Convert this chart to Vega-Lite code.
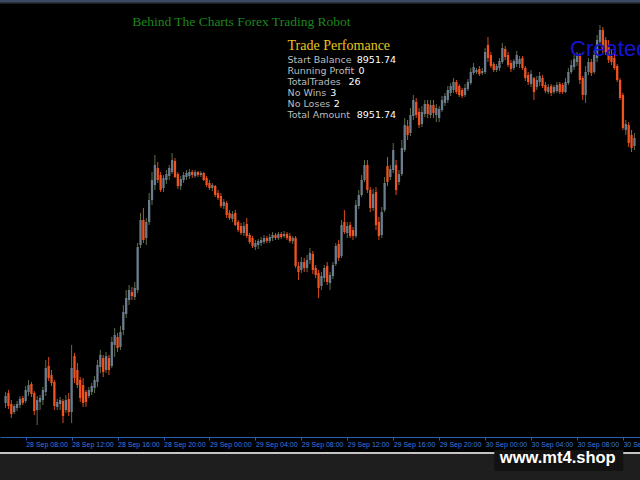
{
"$schema": "https://vega.github.io/schema/vega-lite/v6.json",
"width": 640, "height": 448,
"autosize": {"type": "none"},
"padding": {"left": 0, "right": 0, "top": 4, "bottom": 28},
"background": "#1e1e1e",
"config": {"view": {"stroke": null, "fill": "#000000"}},
"data": {"values": [
{"i":-7,"o":97,"h":108,"l":92,"c":104},{"i":-6,"o":107,"h":110,"l":91,"c":94},{"i":-5,"o":96,"h":100,"l":82,"c":86},{"i":-4,"o":88,"h":96,"l":86,"c":94},{"i":-3,"o":92,"h":99,"l":89,"c":96},{"i":-2,"o":95,"h":104,"l":92,"c":101},{"i":-1,"o":102,"h":104,"l":95,"c":97},
{"i":0,"o":99,"h":114,"l":97,"c":110},{"i":1,"o":108,"h":120,"l":104,"c":115},{"i":2,"o":116,"h":118,"l":103,"c":106},{"i":3,"o":107,"h":109,"l":85,"c":89},{"i":4,"o":90,"h":104,"l":75,"c":100},{"i":5,"o":98,"h":105,"l":90,"c":102},{"i":6,"o":100,"h":113,"l":95,"c":110},{"i":7,"o":108,"h":140,"l":104,"c":132},{"i":8,"o":134,"h":143,"l":119,"c":122},{"i":9,"o":125,"h":130,"l":114,"c":117},
{"i":10,"o":118,"h":120,"l":90,"c":94},{"i":11,"o":93,"h":101,"l":90,"c":98},{"i":12,"o":96,"h":103,"l":90,"c":100},{"i":13,"o":99,"h":101,"l":77,"c":84},{"i":14,"o":90,"h":105,"l":87,"c":100},{"i":15,"o":101,"h":107,"l":84,"c":88},{"i":16,"o":88,"h":155,"l":77,"c":132},{"i":17,"o":144,"h":147,"l":117,"c":122},{"i":18,"o":130,"h":137,"l":112,"c":115},{"i":19,"o":120,"h":123,"l":98,"c":102},
{"i":20,"o":115,"h":122,"l":93,"c":97},{"i":21,"o":108,"h":110,"l":93,"c":98},{"i":22,"o":104,"h":113,"l":102,"c":110},{"i":23,"o":108,"h":117,"l":105,"c":114},{"i":24,"o":112,"h":124,"l":107,"c":120},{"i":25,"o":118,"h":140,"l":113,"c":135},{"i":26,"o":133,"h":150,"l":127,"c":145},{"i":27,"o":142,"h":145,"l":123,"c":128},{"i":28,"o":130,"h":148,"l":127,"c":144},{"i":29,"o":142,"h":145,"l":125,"c":130},
{"i":30,"o":134,"h":163,"l":132,"c":158},{"i":31,"o":155,"h":172,"l":143,"c":165},{"i":32,"o":163,"h":167,"l":148,"c":152},{"i":33,"o":153,"h":174,"l":150,"c":168},{"i":34,"o":170,"h":195,"l":165,"c":188},{"i":35,"o":186,"h":210,"l":182,"c":202},{"i":36,"o":200,"h":215,"l":195,"c":210},{"i":37,"o":208,"h":213,"l":200,"c":204},{"i":38,"o":203,"h":218,"l":200,"c":212},{"i":39,"o":210,"h":257,"l":207,"c":253},
{"i":40,"o":255,"h":287,"l":252,"c":280},{"i":41,"o":280,"h":292,"l":257,"c":260},{"i":42,"o":262,"h":282,"l":255,"c":278},{"i":43,"o":278,"h":307,"l":275,"c":300},{"i":44,"o":300,"h":328,"l":295,"c":320},{"i":45,"o":315,"h":345,"l":310,"c":335},{"i":46,"o":332,"h":338,"l":317,"c":320},{"i":47,"o":325,"h":328,"l":308,"c":310},{"i":48,"o":312,"h":325,"l":308,"c":322},{"i":49,"o":320,"h":330,"l":316,"c":326},
{"i":50,"o":324,"h":335,"l":320,"c":332},{"i":51,"o":328,"h":347,"l":326,"c":340},{"i":52,"o":339,"h":342,"l":322,"c":323},{"i":53,"o":326,"h":328,"l":311,"c":314},{"i":54,"o":314,"h":324,"l":310,"c":321},{"i":55,"o":320,"h":328,"l":317,"c":325},{"i":56,"o":323,"h":330,"l":320,"c":327},{"i":57,"o":324,"h":331,"l":321,"c":328},{"i":58,"o":328,"h":330,"l":322,"c":325},{"i":59,"o":324,"h":330,"l":322,"c":328},
{"i":60,"o":328,"h":329,"l":323,"c":325},{"i":61,"o":325,"h":329,"l":323,"c":327},{"i":62,"o":327,"h":328,"l":319,"c":320},{"i":63,"o":322,"h":324,"l":313,"c":315},{"i":64,"o":317,"h":320,"l":310,"c":312},{"i":65,"o":312,"h":317,"l":309,"c":315},{"i":66,"o":314,"h":315,"l":303,"c":305},{"i":67,"o":307,"h":310,"l":300,"c":302},{"i":68,"o":304,"h":307,"l":292,"c":294},{"i":69,"o":294,"h":301,"l":291,"c":298},
{"i":70,"o":297,"h":299,"l":282,"c":285},{"i":71,"o":287,"h":290,"l":280,"c":282},{"i":72,"o":281,"h":289,"l":278,"c":286},{"i":73,"o":287,"h":290,"l":274,"c":275},{"i":74,"o":278,"h":280,"l":268,"c":270},{"i":75,"o":274,"h":277,"l":265,"c":267},{"i":76,"o":267,"h":278,"l":264,"c":274},{"i":77,"o":276,"h":282,"l":262,"c":264},{"i":78,"o":265,"h":267,"l":256,"c":258},{"i":79,"o":262,"h":264,"l":252,"c":254},
{"i":80,"o":253,"h":260,"l":250,"c":257},{"i":81,"o":255,"h":261,"l":251,"c":259},{"i":82,"o":257,"h":263,"l":254,"c":260},{"i":83,"o":258,"h":265,"l":256,"c":262},{"i":84,"o":262,"h":264,"l":257,"c":259},{"i":85,"o":259,"h":266,"l":257,"c":263},{"i":86,"o":262,"h":268,"l":259,"c":265},{"i":87,"o":265,"h":267,"l":260,"c":262},{"i":88,"o":262,"h":268,"l":260,"c":266},{"i":89,"o":266,"h":268,"l":261,"c":263},
{"i":90,"o":264,"h":269,"l":262,"c":266},{"i":91,"o":266,"h":268,"l":260,"c":262},{"i":92,"o":264,"h":267,"l":257,"c":259},{"i":93,"o":259,"h":264,"l":256,"c":262},{"i":94,"o":262,"h":264,"l":232,"c":234},{"i":95,"o":234,"h":238,"l":220,"c":228},{"i":96,"o":230,"h":243,"l":227,"c":238},{"i":97,"o":238,"h":242,"l":228,"c":232},{"i":98,"o":232,"h":245,"l":228,"c":240},{"i":99,"o":240,"h":252,"l":236,"c":247},
{"i":100,"o":246,"h":249,"l":226,"c":230},{"i":101,"o":232,"h":235,"l":222,"c":225},{"i":102,"o":227,"h":230,"l":202,"c":212},{"i":103,"o":214,"h":228,"l":210,"c":224},{"i":104,"o":222,"h":235,"l":218,"c":232},{"i":105,"o":234,"h":238,"l":215,"c":218},{"i":106,"o":217,"h":228,"l":210,"c":225},{"i":107,"o":224,"h":238,"l":221,"c":235},{"i":108,"o":236,"h":257,"l":234,"c":254},{"i":109,"o":256,"h":260,"l":239,"c":242},
{"i":110,"o":244,"h":280,"l":242,"c":275},{"i":111,"o":278,"h":290,"l":266,"c":268},{"i":112,"o":267,"h":278,"l":262,"c":274},{"i":113,"o":275,"h":278,"l":262,"c":264},{"i":114,"o":270,"h":273,"l":260,"c":264},{"i":115,"o":264,"h":300,"l":262,"c":295},{"i":116,"o":294,"h":310,"l":291,"c":305},{"i":117,"o":305,"h":325,"l":303,"c":320},{"i":118,"o":320,"h":340,"l":318,"c":335},{"i":119,"o":335,"h":340,"l":307,"c":310},
{"i":120,"o":310,"h":313,"l":288,"c":292},{"i":121,"o":292,"h":311,"l":289,"c":306},{"i":122,"o":308,"h":313,"l":270,"c":275},{"i":123,"o":278,"h":283,"l":260,"c":264},{"i":124,"o":265,"h":293,"l":262,"c":288},{"i":125,"o":290,"h":323,"l":288,"c":317},{"i":126,"o":334,"h":343,"l":314,"c":318},{"i":127,"o":323,"h":335,"l":320,"c":331},{"i":128,"o":330,"h":357,"l":327,"c":350},{"i":129,"o":335,"h":340,"l":305,"c":310},
{"i":130,"o":318,"h":330,"l":315,"c":326},{"i":131,"o":326,"h":360,"l":324,"c":352},{"i":132,"o":350,"h":382,"l":348,"c":375},{"i":133,"o":374,"h":380,"l":360,"c":365},{"i":134,"o":367,"h":392,"l":364,"c":385},{"i":135,"o":384,"h":405,"l":380,"c":400},{"i":136,"o":398,"h":402,"l":382,"c":385},{"i":137,"o":388,"h":392,"l":372,"c":375},{"i":138,"o":376,"h":394,"l":373,"c":388},{"i":139,"o":386,"h":400,"l":383,"c":396},
{"i":140,"o":396,"h":400,"l":382,"c":386},{"i":141,"o":385,"h":400,"l":382,"c":395},{"i":142,"o":395,"h":400,"l":382,"c":387},{"i":143,"o":385,"h":396,"l":378,"c":392},{"i":144,"o":382,"h":394,"l":378,"c":391},{"i":145,"o":390,"h":404,"l":388,"c":400},{"i":146,"o":397,"h":407,"l":394,"c":404},{"i":147,"o":400,"h":414,"l":397,"c":410},{"i":148,"o":407,"h":417,"l":404,"c":414},{"i":149,"o":410,"h":422,"l":407,"c":418},
{"i":150,"o":418,"h":420,"l":406,"c":408},{"i":151,"o":414,"h":416,"l":403,"c":405},{"i":152,"o":410,"h":412,"l":402,"c":404},{"i":153,"o":405,"h":416,"l":403,"c":412},{"i":154,"o":411,"h":421,"l":409,"c":418},{"i":155,"o":417,"h":432,"l":415,"c":428},{"i":156,"o":427,"h":437,"l":425,"c":433},{"i":157,"o":428,"h":432,"l":426,"c":430},{"i":158,"o":431,"h":434,"l":424,"c":426},{"i":159,"o":427,"h":432,"l":425,"c":429},
{"i":160,"o":428,"h":452,"l":426,"c":448},{"i":161,"o":455,"h":463,"l":438,"c":442},{"i":162,"o":445,"h":448,"l":432,"c":434},{"i":163,"o":436,"h":438,"l":428,"c":430},{"i":164,"o":430,"h":436,"l":428,"c":434},{"i":165,"o":432,"h":442,"l":429,"c":439},{"i":166,"o":438,"h":457,"l":436,"c":452},{"i":167,"o":451,"h":454,"l":440,"c":443},{"i":168,"o":445,"h":448,"l":433,"c":435},{"i":169,"o":437,"h":440,"l":428,"c":431},
{"i":170,"o":432,"h":441,"l":430,"c":439},{"i":171,"o":436,"h":449,"l":433,"c":445},{"i":172,"o":436,"h":444,"l":432,"c":441},{"i":173,"o":442,"h":444,"l":430,"c":432},{"i":174,"o":432,"h":434,"l":419,"c":422},{"i":175,"o":425,"h":428,"l":415,"c":418},{"i":176,"o":416,"h":430,"l":413,"c":426},{"i":177,"o":422,"h":423,"l":400,"c":408},{"i":178,"o":413,"h":424,"l":410,"c":420},{"i":179,"o":418,"h":428,"l":414,"c":424},
{"i":180,"o":422,"h":425,"l":412,"c":414},{"i":181,"o":415,"h":418,"l":407,"c":409},{"i":182,"o":408,"h":416,"l":406,"c":413},{"i":183,"o":414,"h":416,"l":404,"c":407},{"i":184,"o":408,"h":415,"l":406,"c":413},{"i":185,"o":409,"h":418,"l":407,"c":415},{"i":186,"o":416,"h":418,"l":406,"c":408},{"i":187,"o":415,"h":417,"l":406,"c":408},{"i":188,"o":408,"h":422,"l":407,"c":418},{"i":189,"o":417,"h":432,"l":415,"c":428},
{"i":190,"o":428,"h":440,"l":426,"c":435},{"i":191,"o":433,"h":445,"l":430,"c":441},{"i":192,"o":438,"h":448,"l":434,"c":444},{"i":193,"o":444,"h":447,"l":416,"c":420},{"i":194,"o":422,"h":424,"l":400,"c":405},{"i":195,"o":405,"h":434,"l":397,"c":428},{"i":196,"o":428,"h":442,"l":425,"c":438},{"i":197,"o":438,"h":441,"l":424,"c":427},{"i":198,"o":428,"h":450,"l":426,"c":445},{"i":199,"o":442,"h":465,"l":438,"c":460},
{"i":200,"o":458,"h":475,"l":455,"c":470},{"i":201,"o":470,"h":473,"l":447,"c":450},{"i":202,"o":460,"h":463,"l":445,"c":448},{"i":203,"o":453,"h":460,"l":437,"c":440},{"i":204,"o":444,"h":450,"l":435,"c":438},{"i":205,"o":442,"h":447,"l":430,"c":432},{"i":206,"o":434,"h":436,"l":418,"c":420},{"i":207,"o":420,"h":422,"l":400,"c":402},{"i":208,"o":405,"h":407,"l":370,"c":372},{"i":209,"o":370,"h":380,"l":365,"c":376},
{"i":210,"o":375,"h":378,"l":353,"c":357},{"i":211,"o":365,"h":370,"l":348,"c":352},{"i":212,"o":354,"h":367,"l":350,"c":362}
]},
"layer": [
{"data": {"values": [{}]}, "mark": {"type": "rule", "color": "#3c4a63", "strokeWidth": 3},
 "encoding": {"y": {"datum": 499, "type": "quantitative", "axis": null, "scale": {"domain": [48, 496], "nice": false, "zero": false}}}},
{"data": {"values": [{}]}, "mark": {"type": "rule", "color": "#c4c4c4", "strokeWidth": 2},
 "encoding": {"y": {"datum": 47, "type": "quantitative", "axis": null}}},
{"mark": {"type": "rule", "strokeWidth": 1},
 "encoding": {
  "x": {"field": "i", "type": "quantitative", "scale": {"domain": [-7.2, 212.2], "nice": false, "zero": false},
   "axis": {"values": [0,16,32,48,64,80,96,112,128,144,160,176,192,208],
    "labelExpr": "utcFormat(1695888000000 + datum.value * 900000, '%d %b %H:%M')",
    "offset": -15, "domainColor": "#2a5cb8", "domainWidth": 1, "tickColor": "#2a5cb8", "tickSize": 3,
    "labelColor": "#3a78dc", "labelFont": "Liberation Sans", "labelFontSize": 7, "labelAlign": "left",
    "labelBaseline": "top", "labelPadding": 0.5, "labelOverlap": false, "labelFlush": false,
    "grid": false, "title": null}},
  "y": {"field": "l", "type": "quantitative", "axis": null, "scale": {"domain": [48, 496], "nice": false, "zero": false}},
  "y2": {"field": "h"},
  "color": {"condition": {"test": "datum.c >= datum.o", "value": "#5c7049"}, "value": "#d84a1c"}}},
{"mark": {"type": "bar", "size": 2.3, "orient": "vertical"},
 "encoding": {
  "x": {"field": "i", "type": "quantitative", "axis": {"title": null}},
  "y": {"field": "o", "type": "quantitative", "axis": null},
  "y2": {"field": "c"},
  "color": {"condition": {"test": "datum.c >= datum.o", "value": "#6b7c8e"}, "value": "#f0531f"}}},
{"data": {"values": [{}]}, "mark": {"type": "text", "text": "Behind The Charts Forex Trading Robot", "font": "Liberation Serif", "fontSize": 13.5, "color": "#1d861d", "align": "center", "baseline": "middle"},
 "encoding": {"x": {"datum": 75.1, "type": "quantitative", "axis": {"title": null}}, "y": {"datum": 478, "type": "quantitative", "axis": null}}},
{"data": {"values": [{}]}, "mark": {"type": "text", "text": "Trade Perfomance", "font": "Liberation Serif", "fontSize": 14, "color": "#e8c41c", "align": "left", "baseline": "middle"},
 "encoding": {"x": {"datum": 91.2, "type": "quantitative", "axis": {"title": null}}, "y": {"datum": 454, "type": "quantitative", "axis": null}}},
{"data": {"values": [{}]}, "mark": {"type": "text", "text": "Start Balance", "font": "DejaVu Sans", "fontSize": 9.5, "color": "#bdbdbd", "align": "left", "baseline": "middle"},
 "encoding": {"x": {"datum": 91.2, "type": "quantitative", "axis": {"title": null}}, "y": {"datum": 440, "type": "quantitative", "axis": null}}},
{"data": {"values": [{}]}, "mark": {"type": "text", "text": "Running Profit", "font": "DejaVu Sans", "fontSize": 9.5, "color": "#bdbdbd", "align": "left", "baseline": "middle"},
 "encoding": {"x": {"datum": 91.2, "type": "quantitative", "axis": {"title": null}}, "y": {"datum": 429, "type": "quantitative", "axis": null}}},
{"data": {"values": [{}]}, "mark": {"type": "text", "text": "TotalTrades", "font": "DejaVu Sans", "fontSize": 9.5, "color": "#bdbdbd", "align": "left", "baseline": "middle"},
 "encoding": {"x": {"datum": 91.2, "type": "quantitative", "axis": {"title": null}}, "y": {"datum": 418, "type": "quantitative", "axis": null}}},
{"data": {"values": [{}]}, "mark": {"type": "text", "text": "No Wins", "font": "DejaVu Sans", "fontSize": 9.5, "color": "#bdbdbd", "align": "left", "baseline": "middle"},
 "encoding": {"x": {"datum": 91.2, "type": "quantitative", "axis": {"title": null}}, "y": {"datum": 407, "type": "quantitative", "axis": null}}},
{"data": {"values": [{}]}, "mark": {"type": "text", "text": "No Loses", "font": "DejaVu Sans", "fontSize": 9.5, "color": "#bdbdbd", "align": "left", "baseline": "middle"},
 "encoding": {"x": {"datum": 91.2, "type": "quantitative", "axis": {"title": null}}, "y": {"datum": 396, "type": "quantitative", "axis": null}}},
{"data": {"values": [{}]}, "mark": {"type": "text", "text": "Total Amount", "font": "DejaVu Sans", "fontSize": 9.5, "color": "#bdbdbd", "align": "left", "baseline": "middle"},
 "encoding": {"x": {"datum": 91.2, "type": "quantitative", "axis": {"title": null}}, "y": {"datum": 385.5, "type": "quantitative", "axis": null}}},
{"data": {"values": [{}]}, "mark": {"type": "text", "text": "8951.74", "font": "DejaVu Sans", "fontSize": 9.5, "color": "#ffffff", "align": "left", "baseline": "middle"},
 "encoding": {"x": {"datum": 115.3, "type": "quantitative", "axis": {"title": null}}, "y": {"datum": 440, "type": "quantitative", "axis": null}}},
{"data": {"values": [{}]}, "mark": {"type": "text", "text": "0", "font": "DejaVu Sans", "fontSize": 9.5, "color": "#ffffff", "align": "left", "baseline": "middle"},
 "encoding": {"x": {"datum": 115.9, "type": "quantitative", "axis": {"title": null}}, "y": {"datum": 429, "type": "quantitative", "axis": null}}},
{"data": {"values": [{}]}, "mark": {"type": "text", "text": "26", "font": "DejaVu Sans", "fontSize": 9.5, "color": "#ffffff", "align": "left", "baseline": "middle"},
 "encoding": {"x": {"datum": 112.4, "type": "quantitative", "axis": {"title": null}}, "y": {"datum": 418, "type": "quantitative", "axis": null}}},
{"data": {"values": [{}]}, "mark": {"type": "text", "text": "3", "font": "DejaVu Sans", "fontSize": 9.5, "color": "#ffffff", "align": "left", "baseline": "middle"},
 "encoding": {"x": {"datum": 106.1, "type": "quantitative", "axis": {"title": null}}, "y": {"datum": 407, "type": "quantitative", "axis": null}}},
{"data": {"values": [{}]}, "mark": {"type": "text", "text": "2", "font": "DejaVu Sans", "fontSize": 9.5, "color": "#ffffff", "align": "left", "baseline": "middle"},
 "encoding": {"x": {"datum": 107.3, "type": "quantitative", "axis": {"title": null}}, "y": {"datum": 396, "type": "quantitative", "axis": null}}},
{"data": {"values": [{}]}, "mark": {"type": "text", "text": "8951.74", "font": "DejaVu Sans", "fontSize": 9.5, "color": "#ffffff", "align": "left", "baseline": "middle"},
 "encoding": {"x": {"datum": 115.3, "type": "quantitative", "axis": {"title": null}}, "y": {"datum": 385.5, "type": "quantitative", "axis": null}}},
{"data": {"values": [{}]}, "mark": {"type": "text", "text": "Created by", "font": "Liberation Sans", "fontSize": 22, "color": "#1515d0", "align": "left", "baseline": "middle"},
 "encoding": {"x": {"datum": 189.6, "type": "quantitative", "axis": {"title": null}}, "y": {"datum": 451, "type": "quantitative", "axis": null}}},
{"data": {"values": [{}]}, "mark": {"type": "rect", "color": "#121212"},
 "encoding": {"x": {"datum": 163.2, "type": "quantitative", "axis": {"title": null}}, "x2": {"datum": 208.1}, "y": {"datum": 50, "type": "quantitative", "axis": null}, "y2": {"datum": 29}}},
{"data": {"values": [{}]}, "mark": {"type": "text", "text": "www.mt4.shop", "font": "Liberation Sans", "fontSize": 16.5, "fontWeight": "bold", "color": "#ffffff", "align": "center", "baseline": "middle"},
 "encoding": {"x": {"datum": 185.3, "type": "quantitative", "axis": {"title": null}}, "y": {"datum": 42, "type": "quantitative", "axis": null}}}
]
}
